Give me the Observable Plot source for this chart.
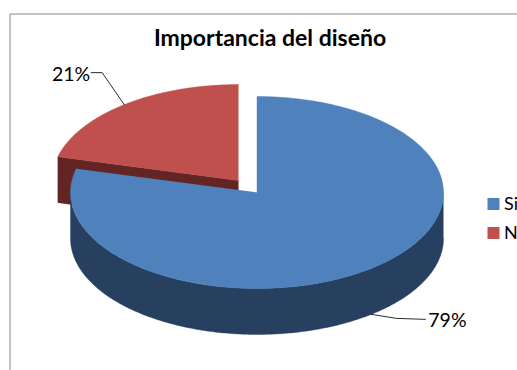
<!DOCTYPE html>
<html>
<head>
<meta charset="utf-8">
<script src="https://cdn.jsdelivr.net/npm/d3@7"></script>
<script src="https://cdn.jsdelivr.net/npm/@observablehq/plot@0.6"></script>
<style>
  html, body { margin: 0; padding: 0; background: #fff; overflow: hidden; }
  svg { display: block; }
</style>
</head>
<body>
<script>
// Survey answers
const answers = ["Si", "No"];
const shares = [79, 21];
const topColors = ["#4F81BD", "#C0504D"];
const sideColors = ["#27405F", "#632523"];
const chartTitle = "Importancia del diseño";

// Tilted pie layout, in page units
const W = 517, H = 370;
const rx = 186.5, ry = 96, depth = 46;
const centers = [[256.5, 192], [238, 180]];
const font = "Lato, 'Open Sans', sans-serif";

const total = d3.sum(shares);
const startTurn = 0;
const endTurn = shares[0] / total;
const TAU = Math.PI * 2;

// Point on a slice's rim, turn measured clockwise from twelve o'clock
const rim = (c, turn, drop = 0) => ({
  x: c[0] + rx * Math.sin(turn * TAU),
  y: c[1] - ry * Math.cos(turn * TAU) + drop
});
const arc = (c, a, b, drop = 0) =>
  d3.range(0, 241).map(i => rim(c, a + (b - a) * i / 240, drop));

const blue = centers[0], red = centers[1];

const blueTop = [{x: blue[0], y: blue[1]}, ...arc(blue, startTurn, endTurn)];
const redTop = [{x: red[0], y: red[1]}, ...arc(red, endTurn, 1)];
const blueSide = [...arc(blue, 0.25, 0.75), ...arc(blue, 0.75, 0.25, depth)];
const redCut = [
  {x: red[0], y: red[1]},
  rim(red, endTurn),
  rim(red, endTurn, depth),
  {x: red[0], y: red[1] + depth}
];

// Leader lines start on the rim at the middle of each slice
const blueMid = rim(blue, endTurn / 2, depth);
const redMid = rim(red, (endTurn + 1) / 2);
const blueLeader = [blueMid, {x: blueMid.x + 25, y: blueMid.y + 4}, {x: blueMid.x + 54, y: blueMid.y + 5}];
const redLeader = [redMid, {x: redMid.x - 22, y: redMid.y - 32}, {x: redMid.x - 33, y: redMid.y - 32}];

const legendRows = answers.map((name, i) => ({
  name,
  color: topColors[i],
  y1: 198 + i * 29,
  y2: 210 + i * 29
}));

const filled = (points, fill) =>
  Plot.line(points, {x: "x", y: "y", fill, stroke: fill, strokeWidth: 0.4, curve: "linear"});

const chart = Plot.plot({
  width: W,
  height: H,
  margin: 0,
  style: {background: "#fff", fontFamily: font},
  x: {domain: [0, W], range: [0, W], axis: null},
  y: {domain: [0, H], range: [0, H], axis: null},
  marks: [
    // chart area border, open past the page's right and bottom edges
    Plot.line([{x: W, y: 13.5}, {x: 9.5, y: 13.5}, {x: 9.5, y: H}], {x: "x", y: "y", stroke: "#8a8a8a", strokeWidth: 1}),

    filled(redCut, sideColors[1]),
    filled(redTop, topColors[1]),
    filled(blueSide, sideColors[0]),
    filled(blueTop, topColors[0]),

    Plot.line(redLeader, {x: "x", y: "y", stroke: "#111", strokeWidth: 0.9}),
    Plot.line(blueLeader, {x: "x", y: "y", stroke: "#111", strokeWidth: 0.9}),

    Plot.text([`${shares[0]}%`], {
      x: () => blueLeader[2].x + 3, y: () => blueLeader[2].y + 1.5, text: d => d,
      textAnchor: "start", fontSize: 19.5, fill: "#000", fontFamily: font
    }),
    Plot.text([`${shares[1]}%`], {
      x: () => redLeader[2].x - 1, y: () => redLeader[2].y + 2, text: d => d,
      textAnchor: "end", fontSize: 19.5, fill: "#000", fontFamily: font
    }),

    Plot.text([chartTitle], {
      x: () => 269.5, y: () => 38, text: d => d,
      fontSize: 23, fontWeight: "bold", fill: "#000", fontFamily: font
    }),

    Plot.rect(legendRows, {x1: () => 487.5, x2: () => 499.5, y1: "y1", y2: "y2", fill: "color"}),
    Plot.text(legendRows, {
      x: () => 503.5, y: d => (d.y1 + d.y2) / 2, text: "name",
      textAnchor: "start", fontSize: 18, fill: "#000", fontFamily: font
    })
  ]
});

document.body.append(chart);
</script>
</body>
</html>
